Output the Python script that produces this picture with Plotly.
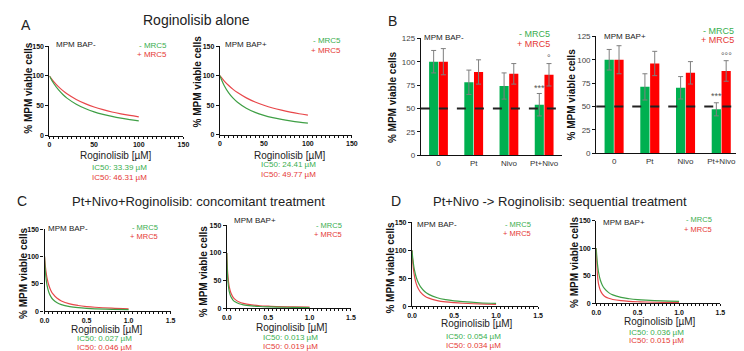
import plotly.graph_objects as go

W, H = 744, 351

# ---------------- data ----------------
DOSE_A = [0, 5, 10, 15, 20, 30, 40, 50, 60, 70, 80, 90, 100]
A_BAPNEG_NOMRC5 = [100, 87.0, 77.0, 69.0, 62.5, 52.7, 45.5, 40.0, 35.8, 32.3, 29.4, 27.1, 25.0]
A_BAPNEG_MRC5 = [100, 90.3, 82.2, 75.5, 69.8, 60.7, 53.7, 48.1, 43.6, 39.8, 36.7, 34.0, 31.7]
A_BAPPOS_NOMRC5 = [100, 83.0, 70.9, 61.9, 55.0, 44.9, 37.9, 32.8, 28.9, 25.9, 23.4, 21.3, 19.6]
A_BAPPOS_MRC5 = [100, 90.9, 83.3, 76.8, 71.3, 62.4, 55.4, 49.9, 45.3, 41.6, 38.4, 35.6, 33.2]

DOSE_CD = [0, 0.005, 0.01, 0.02, 0.03, 0.05, 0.075, 0.1, 0.15, 0.2, 0.3, 0.4, 0.5, 0.6, 0.8, 1.0]
C_BAPNEG_NOMRC5 = [100, 84.4, 73.0, 57.4, 47.4, 35.1, 26.5, 21.3, 15.3, 11.9, 8.3, 6.3, 5.1, 4.3, 3.3, 2.6]
C_BAPNEG_MRC5 = [100, 90.2, 82.1, 69.7, 60.5, 47.9, 38.0, 31.5, 23.5, 18.7, 13.3, 10.3, 8.4, 7.1, 5.4, 4.4]
C_BAPPOS_NOMRC5 = [100, 72.2, 56.5, 39.4, 30.2, 20.6, 14.8, 11.5, 8.0, 6.1, 4.2, 3.1, 2.5, 2.1, 1.6, 1.3]
C_BAPPOS_MRC5 = [100, 79.2, 65.5, 48.7, 38.8, 27.5, 20.2, 16.0, 11.2, 8.7, 6.0, 4.5, 3.7, 3.1, 2.3, 1.9]
D_BAPNEG_NOMRC5 = [100, 91.5, 84.4, 73.0, 64.3, 51.9, 41.9, 35.1, 26.5, 21.3, 15.3, 11.9, 9.7, 8.3, 6.3, 5.1]
D_BAPNEG_MRC5 = [100, 87.2, 77.3, 63.0, 53.1, 40.5, 31.2, 25.4, 18.5, 14.5, 10.2, 7.8, 6.4, 5.4, 4.1, 3.3]
D_BAPPOS_NOMRC5 = [100, 87.8, 78.3, 64.3, 54.5, 41.9, 32.4, 26.5, 19.4, 15.3, 10.7, 8.3, 6.7, 5.7, 4.3, 3.5]
D_BAPPOS_MRC5 = [100, 75.0, 60.0, 42.9, 33.3, 23.1, 16.7, 13.0, 9.1, 7.0, 4.8, 3.6, 2.9, 2.4, 1.8, 1.5]

IC50_TEXT = {
    1: ("IC50: 33.39 µM", "IC50: 46.31 µM"),
    2: ("IC50: 24.41 µM", "IC50: 49.77 µM"),
    5: ("IC50: 0.027 µM", "IC50: 0.046 µM"),
    6: ("IC50: 0.013 µM", "IC50: 0.019 µM"),
    7: ("IC50: 0.054 µM", "IC50: 0.034 µM"),
    8: ("IC50: 0.036 µM", "IC50: 0.015 µM"),
}

CATEGORIES = ["0", "Pt", "Nivo", "Pt+Nivo"]
B_BAPNEG_NOMRC5 = [100, 78, 74, 54]
B_BAPNEG_NOMRC5_ERR = [12, 13, 14, 12]
B_BAPNEG_MRC5 = [100, 89, 87, 86]
B_BAPNEG_MRC5_ERR = [14, 13, 11, 12]
B_BAPPOS_NOMRC5 = [100, 71, 70, 47]
B_BAPPOS_NOMRC5_ERR = [11, 14, 12, 7]
B_BAPPOS_MRC5 = [100, 96, 86, 88]
B_BAPPOS_MRC5_ERR = [15, 13, 12, 11]
B_SIG_NEG = [("***", 72, -1), ("°", 104, 1)]
B_SIG_POS = [("***", 61, -1), ("°°°", 104, 1)]

GREEN = "#3f9f45"
RED = "#e8474a"
BAR_GREEN = "#00b050"
BAR_RED = "#ff0000"
TXT_GREEN = "#3aae4f"
TXT_RED = "#e53935"
FONT = "Liberation Sans, Arial, sans-serif"


def fx(p):
    return p / W


def fy(p):
    return 1 - p / H


# panel pixel boxes: (x0, x1, ytop, ybottom)
BOX = {
    1: (37, 173, 35, 127),
    2: (210, 344, 35, 126),
    3: (414, 557, 27, 147),
    4: (592, 737, 25, 145),
    5: (32, 160, 223, 307),
    6: (217, 343, 219, 304),
    7: (405, 533, 216, 302),
    8: (592, 718, 214, 299),
}

fig = go.Figure()
layout = dict(
    width=W, height=H, margin=dict(l=0, r=0, t=0, b=0),
    paper_bgcolor="white", plot_bgcolor="rgba(0,0,0,0)",
    showlegend=False, barmode="group", bargap=0.45, bargroupgap=0.06,
    font=dict(family=FONT, color="#222"),
)

curves = {
    1: (DOSE_A, A_BAPNEG_NOMRC5, A_BAPNEG_MRC5),
    2: (DOSE_A, A_BAPPOS_NOMRC5, A_BAPPOS_MRC5),
    5: (DOSE_CD, C_BAPNEG_NOMRC5, C_BAPNEG_MRC5),
    6: (DOSE_CD, C_BAPPOS_NOMRC5, C_BAPPOS_MRC5),
    7: (DOSE_CD, D_BAPNEG_NOMRC5, D_BAPNEG_MRC5),
    8: (DOSE_CD, D_BAPPOS_NOMRC5, D_BAPPOS_MRC5),
}

for n, (xs, g, r) in curves.items():
    xa = "x" if n == 1 else f"x{n}"
    ya = "y" if n == 1 else f"y{n}"
    fig.add_trace(go.Scatter(x=xs, y=r, mode="lines", line=dict(color=RED, width=1.2, shape="spline"),
                             xaxis=xa, yaxis=ya))
    fig.add_trace(go.Scatter(x=xs, y=g, mode="lines", line=dict(color=GREEN, width=1.2, shape="spline"),
                             xaxis=xa, yaxis=ya))

bars = {
    3: (B_BAPNEG_NOMRC5, B_BAPNEG_NOMRC5_ERR, B_BAPNEG_MRC5, B_BAPNEG_MRC5_ERR),
    4: (B_BAPPOS_NOMRC5, B_BAPPOS_NOMRC5_ERR, B_BAPPOS_MRC5, B_BAPPOS_MRC5_ERR),
}
for n, (g, ge, r, re_) in bars.items():
    for vals, errs, col in ((g, ge, BAR_GREEN), (r, re_, BAR_RED)):
        fig.add_trace(go.Bar(x=CATEGORIES, y=vals, marker=dict(color=col, line=dict(width=0)),
                             error_y=dict(type="data", array=errs, color="#7f7f7f", thickness=1, width=2.5),
                             xaxis=f"x{n}", yaxis=f"y{n}"))

tick_font_bold = dict(family=FONT, size=7, color="#111", weight="bold")
for n, (x0, x1, yt, yb) in BOX.items():
    xk = "xaxis" if n == 1 else f"xaxis{n}"
    yk = "yaxis" if n == 1 else f"yaxis{n}"
    xd = [fx(x0), fx(x1)]
    yd = [fy(yb), fy(yt)]
    common = dict(showline=True, linecolor="#111", linewidth=1.2, showgrid=False, zeroline=False,
                  fixedrange=True, ticks="outside", tickwidth=1, tickcolor="#111")
    if n in (3, 4):
        layout[xk] = dict(domain=xd, anchor=f"y{n}", type="category",
                          showline=True, linecolor="#111", linewidth=1.2, showgrid=False,
                          zeroline=False, ticks="", fixedrange=True,
                          tickfont=dict(family=FONT, size=8, color="#333"))
        layout[yk] = dict(domain=yd, anchor=f"x{n}", range=[0, 125], tickvals=[0, 25, 50, 75, 100, 125],
                          ticklen=3, tickfont=dict(family=FONT, size=8, color="#444"), **common)
    else:
        if n in (1, 2):
            xr, xt, md, fmt = [0, 150], [0, 50, 100, 150], 5, None
        else:
            xr, xt, md, fmt = [0, 1.5], [0, 0.5, 1.0, 1.5], 0.05, ".1f"
        xa = dict(domain=xd, anchor="y" if n == 1 else f"y{n}", range=xr, tickvals=xt,
                  tickfont=tick_font_bold, ticklen=2,
                  minor=dict(ticks="outside", ticklen=2, dtick=md, tick0=0, tickcolor="#111", showgrid=False),
                  **common)
        if fmt:
            xa["tickformat"] = fmt
        layout[xk] = xa
        layout[yk] = dict(domain=yd, anchor="x" if n == 1 else f"x{n}", range=[0, 150], ticklen=3,
                          tickvals=[0, 50, 100, 150], tickfont=tick_font_bold, **common)

annotations = []


def txt(x, y, s, size, color="#222", xanchor="center", yanchor="middle", bold=False, angle=0):
    f = dict(family=FONT, size=size, color=color)
    if bold:
        f["weight"] = "bold"
    annotations.append(dict(x=fx(x), y=fy(y), xref="paper", yref="paper", text=s, showarrow=False,
                            xanchor=xanchor, yanchor=yanchor, font=f, textangle=angle, borderpad=0))


# panel letters and titles
txt(13, 13, "A", 14)
txt(186, 8, "Roginolisib alone", 14)
txt(385, 9, "B", 14)
txt(9, 194, "C", 14)
txt(188, 194, "Pt+Nivo+Roginolisib: concomitant treatment", 13)
txt(389, 194, "D", 14)
txt(555, 194, "Pt+Nivo -> Roginolisib: sequential treatment", 13)

# y-axis titles
for (x, y) in [(15, 78), (187, 71), (385, 87), (567, 85), (10, 268), (193, 266), (383, 262), (570, 257)]:
    txt(x, y, "% MPM viable cells", 10, color="#111", bold=True, angle=-90)

# x-axis titles
for (x, y) in [(105, 147), (281, 147), (95, 326), (283, 324), (471, 320), (657, 318)]:
    txt(x, y, "Roginolisib [µM]", 10, color="#222")

# IC50 texts
ic_pos = {1: (108, 160, 170), 2: (280, 157, 167), 5: (93, 335, 344), 6: (282, 334, 343),
          7: (467, 333, 342), 8: (653, 329, 337)}
for n, (x, y1, y2) in ic_pos.items():
    txt(x, y1, IC50_TEXT[n][0], 8, TXT_GREEN)
    txt(x, y2, IC50_TEXT[n][1], 8, TXT_RED)

# MPM BAP labels
for (x, y, s) in [(43, 33, "MPM BAP-"), (214, 33, "MPM BAP+"), (416, 26, "MPM BAP-"), (599, 25, "MPM BAP+"),
                  (35, 222, "MPM BAP-"), (223, 214, "MPM BAP+"), (409, 218, "MPM BAP-"), (598, 216, "MPM BAP+")]:
    txt(x, y, s, 8, "#222", xanchor="left")

# MRC5 legends
for (x, y1, y2, sz) in [(157, 34, 44, 8), (334, 29, 39, 8), (546, 23, 33, 9), (733, 20, 29, 9),
                        (148, 221, 230, 7.5), (335, 219, 228, 7.5), (527, 218, 227, 7.5), (710, 213, 223, 7.5)]:
    txt(x, y1, "- MRC5", sz, TXT_GREEN, xanchor="right")
    txt(x, y2, "+ MRC5", sz, TXT_RED, xanchor="right")

# significance marks in B
for n, sig in ((3, B_SIG_NEG), (4, B_SIG_POS)):
    for s, yv, side in sig:
        annotations.append(dict(x="Pt+Nivo", y=yv, xref=f"x{n}", yref=f"y{n}", text=s, showarrow=False,
                                xshift=5 * side, yanchor="middle", borderpad=0,
                                font=dict(family=FONT, size=9, color="#555")))

layout["annotations"] = annotations
layout["shapes"] = [
    dict(type="line", xref=f"x{n} domain", yref=f"y{n}", x0=0, x1=1, y0=50, y1=50,
         line=dict(color="#222", width=2, dash="dash"))
    for n in (3, 4)
]

fig.update_layout(**layout)
fig.write_html("out.html")
